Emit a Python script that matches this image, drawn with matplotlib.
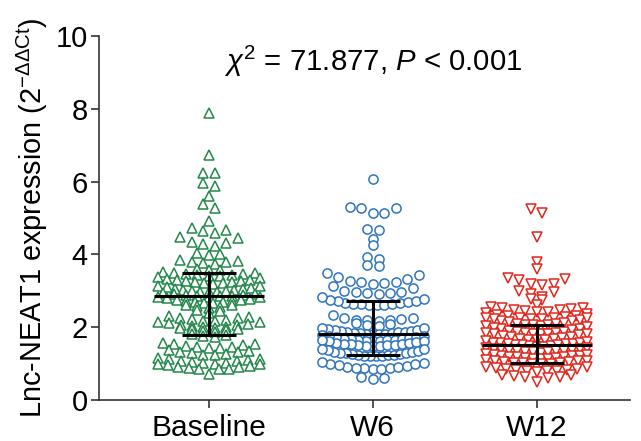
import matplotlib
matplotlib.use('Agg')
from matplotlib import pyplot as plt
import numpy as np

plt.rcParams['font.family'] = ['Liberation Sans', 'DejaVu Sans']
plt.rcParams['mathtext.fontset'] = 'custom'
plt.rcParams['mathtext.rm'] = 'Liberation Sans'
plt.rcParams['mathtext.it'] = 'Liberation Sans:italic'
plt.rcParams['mathtext.bf'] = 'Liberation Sans:bold'

groups = ['Baseline', 'W6', 'W12']

# values, one inner list per row of markers
baseline_rows = [
    [7.88], [6.73], [6.23, 6.25], [5.88, 5.96], [5.61], [5.28, 5.38], [4.92],
    [4.58, 4.64, 4.67, 4.72],
    [4.24, 4.29, 4.32, 4.35, 4.44, 4.47],
    [3.98, 4.00, 4.03],
    [3.74, 3.76, 3.78, 3.80, 3.83, 3.85],
    [3.56, 3.57, 3.59],
    [3.40, 3.41, 3.43, 3.44, 3.46, 3.47, 3.48, 3.50, 3.52],
    [3.20, 3.21, 3.22, 3.24, 3.25, 3.26, 3.28, 3.29, 3.31, 3.33, 3.35, 3.37],
    [2.96, 2.97, 2.98, 2.99, 3.00, 3.02, 3.03, 3.05, 3.06, 3.08, 3.10, 3.12, 3.14],
    [2.84, 2.85, 2.86, 2.87, 2.88, 2.89, 2.90, 2.92, 2.94],
    [2.66, 2.67, 2.68, 2.70, 2.71, 2.72, 2.74, 2.76, 2.78, 2.80, 2.82, 2.84],
    [2.52, 2.55, 2.58, 2.60, 2.62],
    [2.40, 2.44, 2.47],
    [2.17, 2.18, 2.20, 2.22, 2.24, 2.26, 2.28, 2.30],
    [1.98, 2.00, 2.01, 2.03, 2.05, 2.07, 2.09, 2.11, 2.13, 2.15],
    [1.88, 1.90, 1.92, 1.94, 1.96, 1.98],
    [1.74, 1.76, 1.78, 1.80],
    [1.42, 1.43, 1.45, 1.47, 1.49, 1.51, 1.53, 1.55, 1.57],
    [1.24, 1.25, 1.27, 1.29, 1.31, 1.33, 1.35, 1.37],
    [1.00, 1.01, 1.02, 1.04, 1.06, 1.08, 1.10, 1.12, 1.14, 1.16],
    [0.72, 0.84, 0.85, 0.86, 0.88, 0.90, 0.92, 0.94, 0.96, 0.98, 1.00],
]
w6_rows = [
    [6.07], [5.13, 5.15, 5.27, 5.29, 5.31], [4.66, 4.71], [4.42], [4.26],
    [3.87, 3.92], [3.68, 3.70],
    [3.20, 3.21, 3.23, 3.25, 3.28, 3.33, 3.38, 3.43, 3.48],
    [2.92, 2.93, 2.94, 2.96, 2.98, 3.00, 3.08, 3.12],
    [2.60, 2.61, 2.62, 2.63, 2.64, 2.65, 2.66, 2.67, 2.69, 2.71, 2.73, 2.75, 2.78, 2.82],
    [2.18, 2.19, 2.20, 2.21, 2.22, 2.24, 2.26, 2.34],
    [2.02, 2.05, 2.08, 2.12],
    [1.80, 1.81, 1.81, 1.82, 1.83, 1.84, 1.85, 1.86, 1.87, 1.88, 1.89, 1.90, 1.92, 1.93, 1.95, 1.97, 1.99],
    [1.62, 1.63, 1.63, 1.64, 1.65, 1.66, 1.67, 1.68, 1.69, 1.70, 1.72, 1.73, 1.75, 1.77, 1.79],
    [1.48, 1.49, 1.49, 1.50, 1.51, 1.52, 1.53, 1.54, 1.55, 1.56, 1.58, 1.59, 1.61, 1.63, 1.65],
    [1.20, 1.21, 1.21, 1.22, 1.23, 1.24, 1.25, 1.26, 1.27, 1.28, 1.29, 1.30, 1.32, 1.33, 1.35, 1.37, 1.39, 1.41],
    [0.85, 0.86, 0.87, 0.88, 0.89, 0.90, 0.92, 0.94, 0.96, 0.98, 1.00, 1.02, 1.04],
    [0.58, 0.60, 0.62],
]
w12_rows = [
    [5.13, 5.26], [4.49], [3.80], [3.60],
    [3.16, 3.18, 3.20, 3.30, 3.32, 3.34],
    [2.84, 2.92, 2.98, 3.00],
    [2.75, 2.77], [2.61],
    [2.42, 2.43, 2.44, 2.46, 2.48, 2.50, 2.52, 2.54, 2.56],
    [2.22, 2.23, 2.24, 2.26, 2.28, 2.30, 2.32, 2.34, 2.36, 2.38],
    [2.04, 2.05, 2.06, 2.07, 2.08, 2.10, 2.12, 2.14, 2.16, 2.18, 2.20, 2.22, 2.24, 2.26],
    [1.80, 1.81, 1.82, 1.83, 1.84, 1.86, 1.88, 1.90, 1.92, 1.94, 1.96, 1.98, 2.00, 2.02],
    [1.64, 1.65, 1.66, 1.67, 1.68, 1.70, 1.72, 1.74, 1.76, 1.78, 1.80, 1.82, 1.84],
    [1.46, 1.47, 1.48, 1.49, 1.50, 1.51, 1.52, 1.53, 1.54, 1.55, 1.56, 1.57, 1.58, 1.60, 1.62],
    [1.30, 1.31, 1.32, 1.33, 1.34, 1.35, 1.36, 1.37, 1.38, 1.39, 1.40, 1.41, 1.42, 1.44],
    [1.12, 1.13, 1.14, 1.15, 1.16, 1.17, 1.18, 1.19, 1.20, 1.21, 1.22, 1.23, 1.24, 1.26],
    [0.98, 0.99, 1.00, 1.01, 1.02, 1.03, 1.04, 1.05, 1.06, 1.07, 1.08, 1.10],
    [0.78, 0.79, 0.80, 0.81, 0.82, 0.83, 0.84, 0.86, 0.88, 0.90, 0.92],
    [0.50, 0.60, 0.62, 0.64, 0.66, 0.68, 0.70],
]

medians = [2.85, 1.81, 1.50]
q1 = [1.79, 1.25, 1.01]
q3 = [3.48, 2.73, 2.05]

colors = ['#23874a', '#2f74bd', '#e0261c']
markers = ['^', 'o', 'v']
msizes = [7.5, 6.6, 7.0]


def row_layout(rows, center):
    # lowest value in the middle, then alternating right/left outward
    xs, ys = [], []
    for row in rows:
        vals = sorted(row)
        n = len(vals)
        step = 0.07 if n < 2 else min(0.07, 0.62 / (n - 1))
        slots = np.arange(n) - (n - 1) / 2.0
        slots = sorted(slots, key=lambda s: (abs(s), -s))
        for v, s in zip(vals, slots):
            xs.append(center + s * step)
            ys.append(v)
    return np.array(xs), np.array(ys)


fig = plt.figure(figsize=(6.41, 4.41), dpi=100)
ax = fig.add_axes([0.1545, 0.093, 0.983 - 0.1545, 0.825])

for i, rows in enumerate([baseline_rows, w6_rows, w12_rows]):
    xs, ys = row_layout(rows, i)
    ax.plot(xs, ys, linestyle='none', marker=markers[i], markersize=msizes[i],
            markerfacecolor='white', markeredgecolor=colors[i], markeredgewidth=1.1)

for i in range(3):
    ax.plot([i - 0.335, i + 0.335], [medians[i]]*2, color='black', lw=2.2, solid_capstyle='butt')
    ax.plot([i, i], [q1[i], q3[i]], color='black', lw=2.2)
    ax.plot([i - 0.165, i + 0.165], [q1[i]]*2, color='black', lw=2.2, solid_capstyle='butt')
    ax.plot([i - 0.165, i + 0.165], [q3[i]]*2, color='black', lw=2.2, solid_capstyle='butt')

ax.set_xlim(-0.67, 2.57)
ax.set_ylim(0, 10)
ax.set_xticks([0, 1, 2])
ax.set_xticklabels(groups, fontsize=21.5)
ax.set_yticks([0, 2, 4, 6, 8, 10])
ax.tick_params(axis='y', labelsize=21, length=6, width=1.2, color='#333333', pad=2)
ax.tick_params(axis='x', length=6, width=1.2, color='#333333', pad=4)
for s in ['top', 'right']:
    ax.spines[s].set_visible(False)
for s in ['left', 'bottom']:
    ax.spines[s].set_color('#333333')
    ax.spines[s].set_linewidth(1.2)

ax.set_ylabel(r'Lnc-NEAT1 expression (2$^{\mathrm{-\Delta\Delta Ct}}$)', fontsize=20.8, labelpad=4)
ax.text(1, 9.3, r'$\chi^2$ = 71.877, $P$ < 0.001', ha='center', va='center', fontsize=21.2)

plt.savefig('out.png', dpi=100)
